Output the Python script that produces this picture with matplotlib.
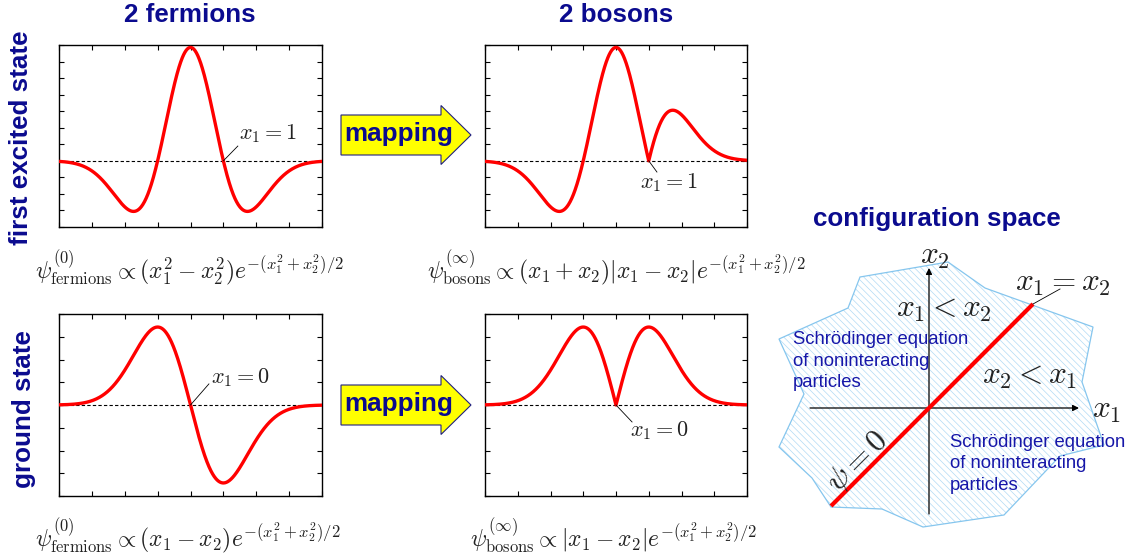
import numpy as np
import matplotlib.pyplot as plt
import matplotlib.patches as mpatches

plt.rcParams['mathtext.fontset'] = 'cm'
plt.rcParams['font.family'] = ['Liberation Sans', 'DejaVu Sans']
plt.rcParams['hatch.linewidth'] = 0.5

W, H = 1141, 558
NAVY = '#0b0b8f'
BODY_BLUE = '#1616a8'
RED = '#ff0000'

# coordinate along the cut and the fixed x1 of each state
x2 = np.linspace(-4, 4, 801)
x1_excited = 1.0
x1_ground = 0.0

# y ranges in units of the tick step
excited_step, excited_ticks_below, excited_ticks_above = 0.0885, 4, 7
ground_step, ground_ticks_below, ground_ticks_above = 0.177, 4, 4

# configuration space: boundary of the hatched region (origin at the axes crossing)
region_x = [-69, 19, 56, 164, 153, 175, 131, 75, -6, -47, -98, -117, -150, -125, -150, -81]
region_y = [131, 146, 120, 81, 26, -37, -48, -107, -119, -101, -99, -70, -39, 14, 69, 100]
node_line = [-98, 104]          # psi = 0 along x1 = x2
x1_axis = [-119, 150]
x2_axis = [-106, 140]


def gauss(a, b):
    return np.exp(-(a**2 + b**2) / 2)


fermion_excited = (x1_excited**2 - x2**2) * gauss(x1_excited, x2)
boson_excited = (x1_excited + x2) * np.abs(x1_excited - x2) * gauss(x1_excited, x2)
fermion_ground = (x1_ground - x2) * gauss(x1_ground, x2)
boson_ground = np.abs(x1_ground - x2) * gauss(x1_ground, x2)

fig = plt.figure(figsize=(W / 100, H / 100), dpi=100)


def px_axes(left, top, right, bottom):
    return fig.add_axes([left / W, 1 - bottom / H, (right - left) / W, (bottom - top) / H])


def wave_panel(ax, y, step, below, above, label, point, text_xy, leader_end):
    ax.plot(x2, y, color=RED, lw=2.4, zorder=3)
    ax.axhline(0, color='black', lw=0.8, ls=(0, (3, 2)), zorder=2)
    ax.set_xlim(-4, 4)
    ax.set_ylim(-below * step, above * step)
    ax.set_xticks(np.arange(-4, 5, 1))
    ax.set_yticks(np.arange(-below, above + 1) * step)
    ax.tick_params(direction='in', top=True, right=True, length=3.5, width=0.8,
                   labelbottom=False, labelleft=False)
    for sp in ax.spines.values():
        sp.set_linewidth(1.0)
    ax.plot([point[0], leader_end[0]], [point[1], leader_end[1]], color='black', lw=0.6, zorder=4)
    ax.text(*text_xy, label, fontsize=16, color='#222222', ha='center', va='center')


ax_fe = px_axes(59, 45, 322, 227)
wave_panel(ax_fe, fermion_excited, excited_step, excited_ticks_below, excited_ticks_above,
           r'$x_1 = 1$', (x1_excited, 0), (2.35, 0.145), (1.44, 0.079))
ax_be = px_axes(485, 45, 747, 227)
wave_panel(ax_be, boson_excited, excited_step, excited_ticks_below, excited_ticks_above,
           r'$x_1 = 1$', (x1_excited, 0), (1.63, -0.116), (1.25, -0.06))
ax_fg = px_axes(59, 314, 322, 496)
wave_panel(ax_fg, fermion_ground, ground_step, ground_ticks_below, ground_ticks_above,
           r'$x_1 = 0$', (x1_ground, 0), (1.53, 0.214), (0.56, 0.164))
ax_bg = px_axes(485, 314, 747, 496)
wave_panel(ax_bg, boson_ground, ground_step, ground_ticks_below, ground_ticks_above,
           r'$x_1 = 0$', (x1_ground, 0), (1.34, -0.198), (0.49, -0.132))

# overlay in pixel units for titles, arrows and formulas
ov = px_axes(0, 0, W, H)
ov.set_xlim(0, W)
ov.set_ylim(H, 0)
ov.axis('off')
ov.patch.set_alpha(0)

bold = dict(fontsize=18.7, fontweight='bold', color=NAVY)
ov.text(190, 22, '2 fermions', ha='center', va='baseline', **bold)
ov.text(616, 22, '2 bosons', ha='center', va='baseline', **bold)
ov.text(937, 226, 'configuration space', ha='center', va='baseline', **bold)
ov.text(28, 138, 'first excited state', rotation=90, rotation_mode='anchor',
        ha='center', va='baseline', **bold)
ov.text(31, 409, 'ground state', rotation=90, rotation_mode='anchor',
        ha='center', va='baseline', **bold)

for yc in (135, 405):
    ov.add_patch(mpatches.FancyArrow(341, yc, 130, 0, width=40, head_width=59, head_length=30,
                                     length_includes_head=True, facecolor='#ffff00',
                                     edgecolor='#202080', lw=0.8))
    ov.text(399, yc + 6.5, 'mapping', ha='center', va='baseline', **bold)

fsz = 17
ov.text(35, 278, r'$\psi^{(0)}_{\mathrm{fermions}} \propto (x_1^2-x_2^2)e^{-(x_1^2+x_2^2)/2}$',
        fontsize=fsz, color='#222222', ha='left', va='baseline')
ov.text(427, 278, r'$\psi^{(\infty)}_{\mathrm{bosons}} \propto (x_1+x_2)|x_1-x_2|e^{-(x_1^2+x_2^2)/2}$',
        fontsize=fsz, color='#222222', ha='left', va='baseline')
ov.text(35, 546, r'$\psi^{(0)}_{\mathrm{fermions}} \propto (x_1-x_2)e^{-(x_1^2+x_2^2)/2}$',
        fontsize=fsz, color='#222222', ha='left', va='baseline')
ov.text(470, 546, r'$\psi^{(\infty)}_{\mathrm{bosons}} \propto |x_1-x_2|e^{-(x_1^2+x_2^2)/2}$',
        fontsize=fsz, color='#222222', ha='left', va='baseline')

# configuration space diagram, origin at the crossing of the axes
cs = px_axes(770, 240, W, H)
cs.set_xlim(770 - 929, W - 929)
cs.set_ylim(408 - H, 408 - 240)
cs.axis('off')
cs.patch.set_alpha(0)

region = np.column_stack([region_x, region_y])
cs.add_patch(mpatches.Polygon(region, closed=True, facecolor='white', edgecolor='#b2daf4',
                              hatch='\\' * 5, lw=0, zorder=1))
cs.add_patch(mpatches.Polygon(region, closed=True, facecolor='none', edgecolor='#86c6ee',
                              lw=0.9, zorder=2))

axis_arrow = dict(arrowstyle='-|>', color='black', lw=0.9, mutation_scale=9, shrinkA=0, shrinkB=0)
cs.annotate('', xy=(x1_axis[1], 0), xytext=(x1_axis[0], 0), arrowprops=axis_arrow, zorder=3)
cs.annotate('', xy=(0, x2_axis[1]), xytext=(0, x2_axis[0]), arrowprops=axis_arrow, zorder=3)
cs.plot(node_line, node_line, color=RED, lw=3.0, solid_capstyle='butt', zorder=4)
cs.plot([node_line[1], 131], [node_line[1], 119], color='black', lw=0.6, zorder=4)

mt = dict(fontsize=22.5, color='#222222', ha='center', va='center', zorder=5)
cs.text(6, 152, r'$x_2$', **mt)
cs.text(178, -2, r'$x_1$', **mt)
cs.text(134, 125, r'$x_1 = x_2$', **mt)
cs.text(15, 99, r'$x_1 < x_2$', **mt)
cs.text(101, 32, r'$x_2 < x_1$', **mt)
cs.text(-71, -54, r'$\psi = 0$', rotation=45, fontsize=23, color='#222222',
        ha='center', va='center', zorder=5)

schr = 'Schrödinger equation\nof noninteracting\nparticles'
cs.text(-136, 47, schr, fontsize=13.3, color=BODY_BLUE, ha='left', va='center',
        linespacing=1.32, zorder=5)
cs.text(21, -56, schr, fontsize=13.3, color=BODY_BLUE, ha='left', va='center',
        linespacing=1.32, zorder=5)

fig.savefig('out.png', dpi=100)
